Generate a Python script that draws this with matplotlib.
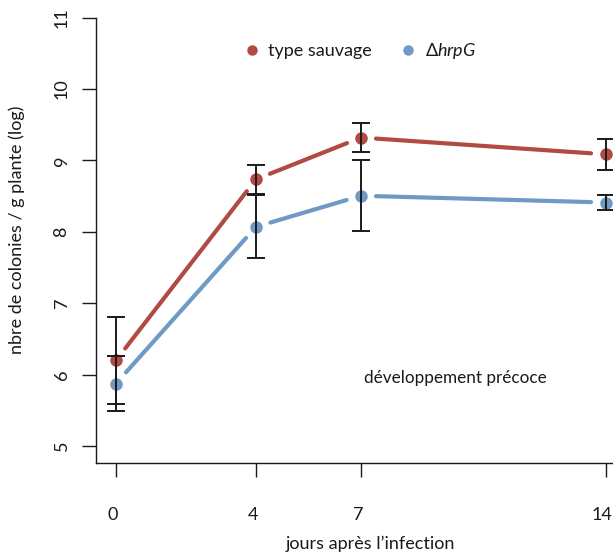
import numpy as np
import matplotlib
matplotlib.use("Agg")
import matplotlib.pyplot as plt
import matplotlib.transforms as mtransforms
from matplotlib.lines import Line2D

# ── Data ──────────────────────────────────────────────────────────────
days = [0, 4, 7, 14]
wild_mean = [6.20, 8.735, 9.32, 9.085]
wild_err = [0.61, 0.20, 0.205, 0.22]
hrpg_mean = [5.875, 8.07, 8.505, 8.41]
hrpg_err = [0.385, 0.44, 0.50, 0.107]

x_ticks = [0, 4, 7, 14]
y_ticks = [5, 6, 7, 8, 9, 10, 11]

RED = "#B04A42"
BLUE = "#6E9AC4"
INK = "#1a1a1a"

plt.rcParams["font.family"] = ["Lato", "DejaVu Sans"]
plt.rcParams["mathtext.fontset"] = "custom"
plt.rcParams["mathtext.it"] = "Lato:italic"
plt.rcParams["mathtext.rm"] = "Lato"

W, H = 613, 552
fig = plt.figure(figsize=(W / 100, H / 100), dpi=100)
# axes box placed in pixels: left spine at x=96, bottom spine at y=463
ax = fig.add_axes([96 / W, 89 / H, 517 / W, 445.4 / H])
ax.set_xlim(-0.571, 14.2)
ax.set_ylim(4.762, 11.0)

ax.spines["top"].set_visible(False)
ax.spines["right"].set_visible(False)
for s in ("left", "bottom"):
    ax.spines[s].set_linewidth(1.0)
    ax.spines[s].set_color(INK)

ax.set_xticks(x_ticks)
ax.set_xticklabels([str(v) for v in x_ticks])
ax.set_yticks(y_ticks)
ax.set_yticklabels([str(v) for v in y_ticks], rotation=90, va="center")
ax.tick_params(axis="both", direction="out", length=10, width=1.0,
               color=INK, labelsize=13, labelcolor=INK)
ax.tick_params(axis="x", pad=22)
ax.tick_params(axis="y", pad=9)

# nudge x tick labels slightly left; the last one sits against the edge
xlabels = ax.get_xticklabels()
for lab in xlabels[:-1]:
    lab.set_transform(lab.get_transform() +
                      mtransforms.ScaledTranslation(-3 / 100, 0, fig.dpi_scale_trans))
xlabels[-1].set_transform(xlabels[-1].get_transform() +
                          mtransforms.ScaledTranslation(-5 / 100, 0, fig.dpi_scale_trans))
xlabels[-1].set_ha("right")
xlabels[-1].set_transform(xlabels[-1].get_transform() +
                          mtransforms.ScaledTranslation(11 / 100, 0, fig.dpi_scale_trans))


def gapped_line(xs, ys, color, gap=15):
    # R-style type="b": segments stop short of each point
    pts = ax.transData.transform(np.column_stack([xs, ys]))
    inv = ax.transData.inverted()
    for p0, p1 in zip(pts[:-1], pts[1:]):
        d = p1 - p0
        u = d / np.hypot(*d)
        a = inv.transform(p0 + gap * u)
        b = inv.transform(p1 - gap * u)
        ax.plot([a[0], b[0]], [a[1], b[1]], color=color, lw=3,
                solid_capstyle="round", zorder=2)


gapped_line(days, wild_mean, RED)
gapped_line(days, hrpg_mean, BLUE)

ax.plot(days, wild_mean, "o", color=RED, ms=8, mec=RED, zorder=3, clip_on=False)
ax.plot(days, hrpg_mean, "o", color=BLUE, ms=8, mec=BLUE, zorder=3, clip_on=False)

ax.errorbar(days, wild_mean, yerr=wild_err, fmt="none", ecolor=INK,
            elinewidth=1.4, capsize=6.8, capthick=1.4, zorder=4, clip_on=False)
ax.errorbar(days, hrpg_mean, yerr=hrpg_err, fmt="none", ecolor=INK,
            elinewidth=1.4, capsize=6.8, capthick=1.4, zorder=4, clip_on=False)

ax.text(9.71, 5.95, "développement précoce", ha="center", va="center",
        fontsize=12.3, color=INK)

handles = [
    Line2D([], [], marker="o", ls="none", color=RED, ms=6.5),
    Line2D([], [], marker="o", ls="none", color=BLUE, ms=6.5),
]
leg = ax.legend(handles, ["type sauvage", r"Δ$\mathit{hrpG}$"], ncol=2,
                frameon=False, fontsize=13, loc="center left",
                bbox_to_anchor=((245 - 96) / 517, (552 - 51 - 89) / 445.4),
                handlelength=0.8, handletextpad=0.5, columnspacing=1.6,
                borderaxespad=0, borderpad=0)
for t in leg.get_texts():
    t.set_color(INK)

ax.set_xlabel("jours après l’infection", fontsize=13, color=INK)
ax.xaxis.set_label_coords((370 - 96) / 517, -0.162)
ax.set_ylabel("nbre de colonies / g plante (log)", fontsize=13, color=INK)
ax.yaxis.set_label_coords(-0.137, 0.523)

fig.savefig("out.png", dpi=100)
